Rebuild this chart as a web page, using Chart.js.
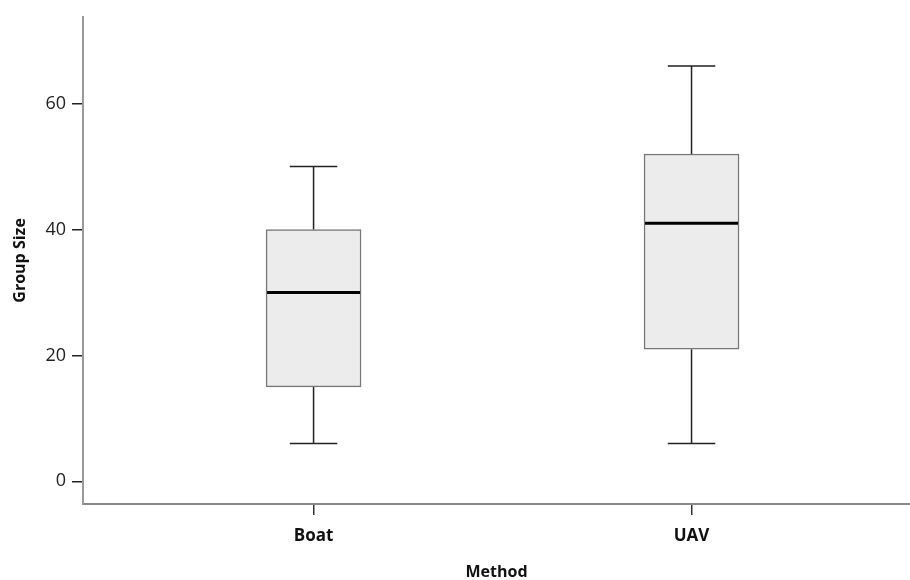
<!DOCTYPE html>
<html>
<head>
<meta charset="utf-8">
<script src="https://cdn.jsdelivr.net/npm/chart.js@4.4.1/dist/chart.umd.min.js"></script>
<style>
  html, body { margin: 0; padding: 0; background: #fff; }
  canvas { display: block; }
</style>
</head>
<body>
<canvas id="chart" width="910" height="580"></canvas>
<script>
// values
const methods = ["Boat", "UAV"];
const whiskerLow = [6, 6];
const quartile1 = [15, 21];
const medians = [30, 41];
const quartile3 = [40, 52];
const whiskerHigh = [50, 66];
const yTickValues = [0, 20, 40, 60];

const FONT = "'Open Sans', 'DejaVu Sans', sans-serif";

// whiskers under the boxes, medians on top of them
const boxPlotParts = {
  id: "boxPlotParts",
  beforeDatasetsDraw(chart) {
    const { ctx, scales: { x, y } } = chart;
    const bars = chart.getDatasetMeta(0).data;
    ctx.save();
    ctx.strokeStyle = "#222";
    ctx.lineWidth = 1.5;
    methods.forEach((m, i) => {
      const cx = bars[i].x;
      const half = bars[i].width / 4;
      const lo = y.getPixelForValue(whiskerLow[i]);
      const hi = y.getPixelForValue(whiskerHigh[i]);
      ctx.beginPath();
      ctx.moveTo(cx, hi);
      ctx.lineTo(cx, y.getPixelForValue(quartile3[i]));
      ctx.moveTo(cx, y.getPixelForValue(quartile1[i]));
      ctx.lineTo(cx, lo);
      ctx.moveTo(cx - half, hi);
      ctx.lineTo(cx + half, hi);
      ctx.moveTo(cx - half, lo);
      ctx.lineTo(cx + half, lo);
      ctx.stroke();
    });
    ctx.restore();
  },
  afterDatasetsDraw(chart) {
    const { ctx, scales: { y } } = chart;
    const bars = chart.getDatasetMeta(0).data;
    ctx.save();
    ctx.strokeStyle = "#000";
    ctx.lineWidth = 3;
    methods.forEach((m, i) => {
      const cx = bars[i].x;
      const half = bars[i].width / 2;
      const my = y.getPixelForValue(medians[i]);
      ctx.beginPath();
      ctx.moveTo(cx - half + 1, my);
      ctx.lineTo(cx + half - 1, my);
      ctx.stroke();
    });
    ctx.restore();
  }
};

new Chart(document.getElementById("chart"), {
  type: "bar",
  data: {
    datasets: [{
      label: "Group Size",
      data: methods.map((m, i) => ({ x: i + 1, y: [quartile1[i], quartile3[i]] })),
      backgroundColor: "#ececec",
      borderColor: "#777",
      borderWidth: 1.5,
      borderSkipped: false,
      barThickness: 95
    }]
  },
  plugins: [boxPlotParts],
  options: {
    responsive: false,
    animation: false,
    devicePixelRatio: 1,
    layout: { padding: { top: 14, right: 0, left: 0, bottom: 0 } },
    plugins: {
      legend: { display: false },
      tooltip: { enabled: false }
    },
    scales: {
      x: {
        type: "linear",
        offset: false,
        min: 0.39,
        max: 2.578,
        afterBuildTicks: (scale) => {
          scale.ticks = methods.map((m, i) => ({ value: i + 1 }));
        },
        afterFit: (scale) => { scale.height = 76; },
        ticks: {
          callback: (v) => methods[v - 1],
          color: "#111",
          font: { family: FONT, size: 17, weight: "bold" },
          padding: 11,
          maxRotation: 0
        },
        grid: {
          display: true,
          offset: false,
          drawOnChartArea: false,
          drawTicks: true,
          tickLength: 11,
          color: "#333",
          lineWidth: 1.5
        },
        border: { display: true, color: "#888", width: 2 },
        title: {
          display: true,
          text: "Method",
          color: "#111",
          font: { family: FONT, size: 16, weight: "bold", lineHeight: 1 },
          padding: { top: 0, bottom: 0 }
        }
      },
      y: {
        type: "linear",
        min: -3.6,
        max: 73.8,
        afterBuildTicks: (scale) => {
          scale.ticks = yTickValues.map((v) => ({ value: v }));
        },
        afterFit: (scale) => { scale.width = 83; },
        ticks: {
          color: "#222",
          font: { family: FONT, size: 18 },
          padding: 6
        },
        grid: {
          display: true,
          drawOnChartArea: false,
          drawTicks: true,
          tickLength: 11,
          color: "#222",
          lineWidth: 1.5
        },
        border: { display: true, color: "#999", width: 2 },
        title: {
          display: true,
          text: "Group Size",
          color: "#111",
          font: { family: FONT, size: 16, weight: "bold" },
          padding: { top: 11, bottom: 0 }
        }
      }
    }
  }
});
</script>
</body>
</html>
